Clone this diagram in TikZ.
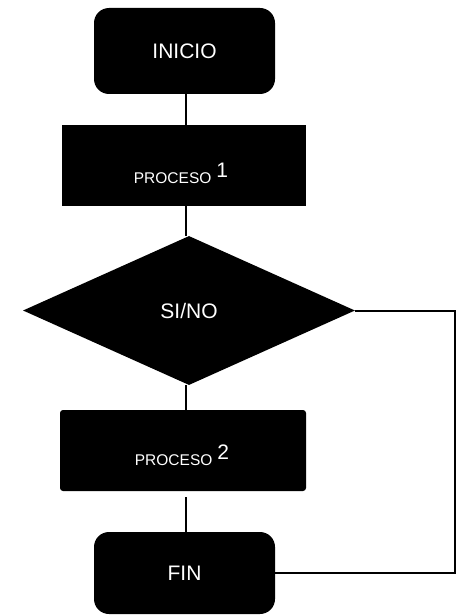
\documentclass[tikz,border=0pt]{standalone}
\usepackage{fontspec}
\setmainfont{Liberation Sans}
\usetikzlibrary{shapes.geometric}
\begin{document}
\begin{tikzpicture}[x=1pt,y=-1pt,
  blk/.style={fill=black,draw=none,inner sep=0pt,text=white},
  term/.style={blk,rectangle,rounded corners=15pt,minimum width=181pt,minimum height=86pt},
  procbox/.style={blk,rectangle,minimum width=244pt,minimum height=81pt},
  lbl/.style={text=white,inner sep=0pt,anchor=base},
  conn/.style={line width=2pt,draw=black},
  big/.style={font=\fontsize{21}{25}\selectfont}]
\useasboundingbox (0,0) rectangle (456,615);
\node[term,big] (ini) at (184.5,51) {INICIO};
\node[procbox] (p1) at (183.5,165.5) {};
\node[lbl] (p1t) at (181,183) {\fontsize{15.5}{18}\selectfont PROCESO\hspace{5pt}\raisebox{6pt}{\fontsize{21}{25}\selectfont 1}};
\node[blk,diamond,aspect=2.23,minimum width=332pt,minimum height=149pt,big] (d) at (189,310.5) {SI/NO};
\node[procbox,rounded corners=3pt,minimum width=246pt] (p2) at (183,450.5) {};
\node[lbl] (p2t) at (182,465) {\fontsize{15.5}{18}\selectfont PROCESO\hspace{5pt}\raisebox{6pt}{\fontsize{21}{25}\selectfont 2}};
\node[term,big,minimum height=82pt] (fin) at (184.5,573) {FIN};
\coordinate (cx) at (185.5,0);
\coordinate (r) at (455,310.5);
\draw[conn] (cx |- ini.south) -- (cx |- p1.north);
\draw[conn] (cx |- p1.south) -- (cx |- d.north);
\draw[conn] (cx |- d.south) -- (cx |- p2.north);
\draw[conn,shorten <=6pt] (cx |- p2.south) -- (cx |- fin.north);
\draw[conn] (d.east) -- (r) |- (fin.east);
\end{tikzpicture}
\end{document}
